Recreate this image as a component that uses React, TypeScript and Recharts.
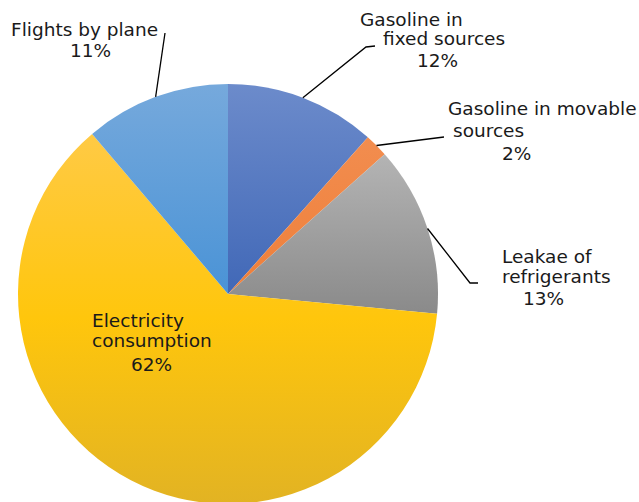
import { PieChart, Pie, Cell } from 'recharts';

// share of emissions by source, clockwise from 12 o'clock
const sources = [
  'Gasoline in fixed sources',
  'Gasoline in movable sources',
  'Leakae of refrigerants',
  'Electricity consumption',
  'Flights by plane',
];
const shares = [11.6, 1.8, 13.1, 62.3, 11.2];

const data = sources.map((name, i) => ({ name, value: shares[i] }));

// gradient stops per slice (top -> bottom)
const gradients = [
  ['#6c8bcb', '#4168b7'],
  ['#f28d4f', '#ee7f3a'],
  ['#b4b4b4', '#8a8a8a'],
  ['#ffca45', '#ffc60c', '#e2b323'],
  ['#76a9dc', '#4a93d6'],
];

// label layout, relative to pie centre: leader line points and text lines [text, dx, dy]
const labelLayout = [
  { line: [[138, -247], [147, -248]], text: [['Gasoline in', 132, -268], ['fixed sources', 155, -249], ['{p}', 189, -227]] },
  { line: [[216, -157]], text: [['Gasoline in movable', 220, -179], ['sources', 225, -157], ['{p}', 274, -134]] },
  { line: [[242, -11], [250, -11]], text: [['Leakae of', 274, -31], ['refrigerants', 274, -11], ['{p}', 295, 11]] },
  { line: [], text: [['Electricity', -136, 33], ['consumption', -136, 53], ['{p}', -97, 77]] },
  { line: [[-63, -261]], text: [['Flights by plane', -217, -258], ['{p}', -158, -237]] },
];

const RAD = Math.PI / 180;

function renderLabel(props: any) {
  const { cx, cy, midAngle, outerRadius, index, value } = props;
  const layout = labelLayout[index];
  const sx = cx + outerRadius * Math.cos(-midAngle * RAD);
  const sy = cy + outerRadius * Math.sin(-midAngle * RAD);
  const pts = [[sx, sy], ...layout.line.map(([dx, dy]) => [cx + dx, cy + dy])];
  const pct = `${Math.round(value)}%`;
  return (
    <g key={`lbl-${index}`}>
      {layout.line.length > 0 && (
        <polyline
          points={pts.map((p) => p.join(',')).join(' ')}
          fill="none"
          stroke="#000"
          strokeWidth={1.3}
        />
      )}
      {layout.text.map(([t, dx, dy], j) => (
        <text
          key={j}
          x={cx + (dx as number)}
          y={cy + (dy as number)}
          fill="#1a1a1a"
          fontSize={18.5}
          fontFamily="'DejaVu Sans', sans-serif"
          textAnchor="start"
        >
          {t === '{p}' ? pct : t}
        </text>
      ))}
    </g>
  );
}

export default function App() {
  return (
    <div style={{ position: 'absolute', left: 0, top: 0, background: '#fff' }}>
      <PieChart width={639} height={502} margin={{ top: 0, right: 0, bottom: 0, left: 0 }}>
        <defs>
          {gradients.map((stops, i) => (
            <linearGradient key={i} id={`grad-${i}`} x1="0" y1="0" x2="0" y2="1">
              {stops.map((c, j) => (
                <stop key={j} offset={stops.length === 1 ? 0 : j / (stops.length - 1)} stopColor={c} />
              ))}
            </linearGradient>
          ))}
        </defs>
        <Pie
          data={data}
          dataKey="value"
          nameKey="name"
          cx={228}
          cy={294}
          outerRadius={210}
          startAngle={90}
          endAngle={-270}
          stroke="none"
          label={renderLabel}
          labelLine={false}
          isAnimationActive={false}
        >
          {data.map((d, i) => (
            <Cell key={d.name} fill={`url(#grad-${i})`} />
          ))}
        </Pie>
      </PieChart>
    </div>
  );
}
